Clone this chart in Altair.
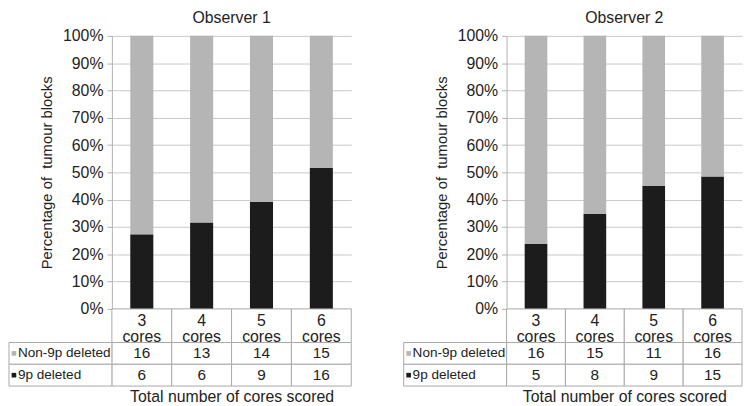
import altair as alt
import pandas as pd

# ---- data ----
categories = ["3 cores", "4 cores", "5 cores", "6 cores"]
series = ["Non-9p deleted", "9p deleted"]
obs1_non = [16, 13, 14, 15]
obs1_del = [6, 6, 9, 16]
obs2_non = [16, 15, 11, 16]
obs2_del = [5, 8, 9, 15]
y_ticks = [0, 0.1, 0.2, 0.3, 0.4, 0.5, 0.6, 0.7, 0.8, 0.9, 1.0]
colors = ["#b5b5b5", "#1c1c1c"]

FONT = "Liberation Sans"
GRID = "#c8c8c8"
BORDER = "#a8a8a8"
TXT = "#222222"
LABEL_W = 104


def long_table(non, dele):
    rows = []
    for c, n, d in zip(categories, non, dele):
        rows.append({"cat": c, "series": series[0], "count": n, "ord": 1})
        rows.append({"cat": c, "series": series[1], "count": d, "ord": 0})
    return pd.DataFrame(rows)


def panel(title, non, dele, w):
    df = long_table(non, dele)
    xs = alt.Scale(domain=categories, paddingInner=0, paddingOuter=0)
    cs = alt.Scale(domain=series, range=colors)

    bars = alt.Chart(df).mark_bar(width=alt.RelativeBandSize(0.385)).encode(
        x=alt.X("cat:N", scale=xs, axis=None),
        y=alt.Y(
            "count:Q",
            stack="normalize",
            scale=alt.Scale(domain=[0, 1], nice=False),
            axis=alt.Axis(
                values=y_ticks,
                format=".0%",
                title="Percentage of\u00a0 tumour blocks",
                titleFontSize=15,
                titleFontWeight="normal",
                titleColor=TXT,
                titlePadding=8,
                labelFontSize=16,
                labelColor=TXT,
                labelPadding=4,
                tickSize=5,
                tickColor="#b0b0b0",
                domainColor="#b0b0b0",
                gridColor=GRID,
            ),
        ),
        color=alt.Color("series:N", scale=cs, legend=None),
        order=alt.Order("ord:Q"),
    ).properties(
        width=w,
        height=276,
        title=alt.TitleParams(title, fontSize=16, fontWeight="normal", color=TXT, offset=2),
    )

    hdr_df = pd.DataFrame({"cat": categories})
    hdr_base = alt.Chart(hdr_df).encode(x=alt.X("cat:N", scale=xs, axis=None))
    hdr = alt.layer(
        hdr_base.mark_rect(fill="white", stroke=BORDER, strokeWidth=1),
        hdr_base.mark_text(
            lineBreak=" ", fontSize=16, color=TXT, baseline="middle", lineHeight=16, dy=-5
        ).encode(text="cat:N"),
    ).properties(width=w, height=34)

    ys = alt.Scale(domain=series, paddingInner=0, paddingOuter=0)
    base = alt.Chart(df).encode(y=alt.Y("series:N", scale=ys, axis=None))
    xenc = alt.X(
        "cat:N",
        scale=xs,
        axis=alt.Axis(
            title="Total number of cores scored",
            labels=False,
            ticks=False,
            domain=False,
            titleFontSize=16,
            titleFontWeight="normal",
            titleColor=TXT,
            titlePadding=3,
        ),
    )
    cells = base.mark_rect(fill="white", stroke=BORDER, strokeWidth=1).encode(x=xenc)
    vals = base.mark_text(fontSize=15.5, color=TXT).encode(x=alt.X("cat:N", scale=xs), text="count:Q")

    lab_df = pd.DataFrame({"series": series})
    lab_base = alt.Chart(lab_df).encode(y=alt.Y("series:N", scale=ys, axis=None))
    lab_rect = lab_base.mark_rect(fill="white", stroke=BORDER, strokeWidth=1).encode(
        x=alt.value(-LABEL_W), x2=alt.value(0)
    )
    lab_sq = lab_base.mark_square(size=22, opacity=1).encode(
        x=alt.value(-LABEL_W + 5), color=alt.Color("series:N", scale=cs, legend=None)
    )
    lab_txt = lab_base.mark_text(align="left", fontSize=13.7, color=TXT).encode(
        x=alt.value(-LABEL_W + 9), text="series:N"
    )
    table = alt.layer(cells, vals, lab_rect, lab_sq, lab_txt).properties(width=w, height=44)

    return alt.vconcat(bars, hdr, table, spacing=0, bounds="flush").resolve_scale(
        x="independent", y="independent"
    )


chart = (
    alt.hconcat(
        panel("Observer 1", obs1_non, obs1_del, 242),
        panel("Observer 2", obs2_non, obs2_del, 238),
        spacing=51,
    )
    .properties(padding=0)
    .configure(font=FONT)
    .configure_view(stroke=None)
)

chart.save("out.html", embed_options={"renderer": "svg", "actions": False})
